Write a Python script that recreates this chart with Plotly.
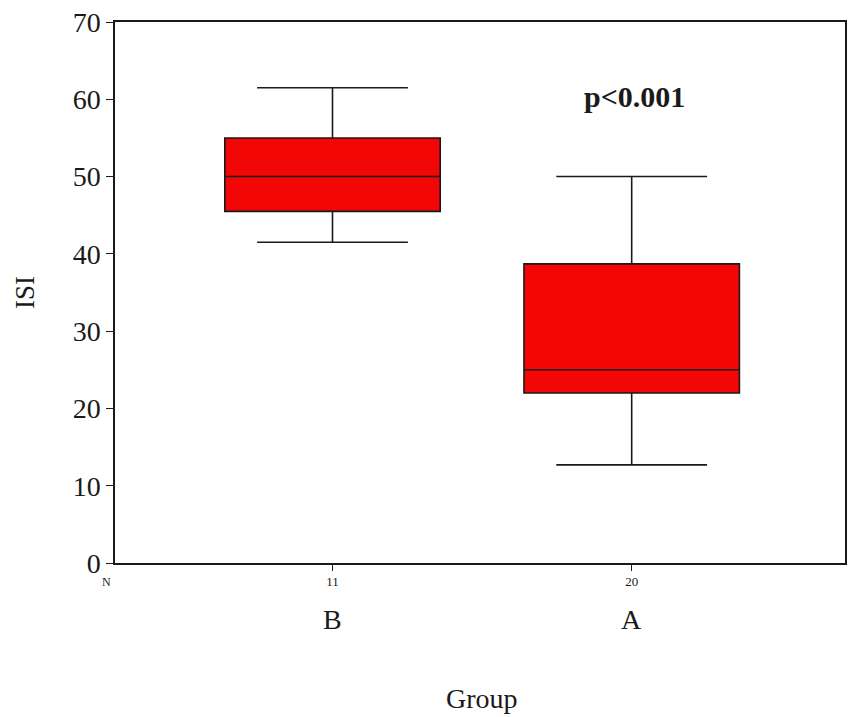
import plotly.graph_objects as go

# Group summary statistics for ISI
groups = ["B", "A"]
n_counts = ["11", "20"]
q1 = [45.5, 22.0]
median = [50.0, 25.0]
q3 = [55.0, 38.7]
lower_whisker = [41.5, 12.7]
upper_whisker = [61.5, 50.0]
y_ticks = [0, 10, 20, 30, 40, 50, 60, 70]
p_label = "p<0.001"

positions = list(range(len(groups)))
serif = "Liberation Serif, Times New Roman, serif"

fig = go.Figure()
fig.add_trace(go.Box(
    x=positions,
    q1=q1,
    median=median,
    q3=q3,
    lowerfence=lower_whisker,
    upperfence=upper_whisker,
    width=0.72,
    whiskerwidth=0.7,
    fillcolor="#f20606",
    line=dict(color="#1a1a1a", width=1.6),
    boxpoints=False,
    hoverinfo="skip",
    showlegend=False,
))

fig.update_layout(
    width=848,
    height=717,
    margin=dict(l=115, r=1, t=22, b=154),
    paper_bgcolor="white",
    plot_bgcolor="white",
    font=dict(family=serif, color="#1a1a1a"),
    xaxis=dict(
        range=[-0.727, 1.713],
        tickvals=positions,
        ticktext=n_counts,
        tickfont=dict(size=13, family=serif),
        ticks="outside",
        ticklen=6,
        tickcolor="#1a1a1a",
        showline=True,
        linecolor="#1a1a1a",
        linewidth=1.5,
        mirror=True,
        showgrid=False,
        zeroline=False,
    ),
    yaxis=dict(
        range=[0, 70],
        tickvals=y_ticks,
        tickfont=dict(size=28, family=serif),
        ticks="outside",
        ticklen=7,
        tickcolor="#1a1a1a",
        showline=True,
        linecolor="#1a1a1a",
        linewidth=1.5,
        mirror=True,
        showgrid=False,
        zeroline=False,
        title=dict(text="ISI", font=dict(size=27, family=serif), standoff=30),
    ),
)

# Group names beneath the N counts
for pos, name in zip(positions, groups):
    fig.add_annotation(x=pos, y=-0.104, xref="x", yref="paper", text=name,
                       showarrow=False, font=dict(size=28, family=serif),
                       yanchor="middle")

fig.add_annotation(x=-0.012, y=-0.035, xref="paper", yref="paper", text="N",
                   showarrow=False, font=dict(size=12, family=serif),
                   xanchor="center", yanchor="middle")

fig.add_annotation(x=0.5, y=-0.25, xref="x", yref="paper", text="Group",
                   showarrow=False, font=dict(size=28, family=serif),
                   yanchor="middle")

fig.add_annotation(x=1.01, y=60.3, xref="x", yref="y",
                   text="<b>" + p_label.replace("<", "&lt;") + "</b>",
                   showarrow=False, font=dict(size=30, family=serif),
                   yanchor="middle")

fig.write_html("out.html")
